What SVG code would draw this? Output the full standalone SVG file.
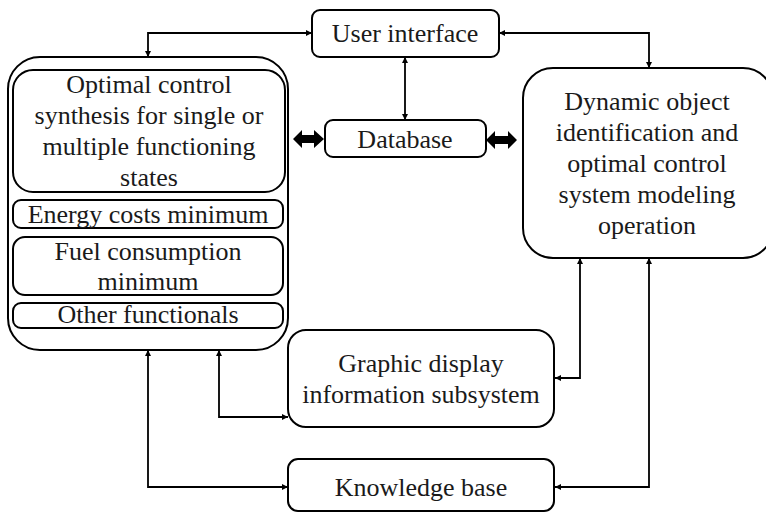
<svg xmlns="http://www.w3.org/2000/svg" width="766" height="513" viewBox="0 0 766 513">
<style>
.box{fill:#fff;stroke:#000;stroke-width:2}
text{font-family:"Liberation Serif",serif;font-size:26px;fill:#1a1a1a;text-anchor:middle}
.c{fill:none;stroke:#000;stroke-width:1.8}
.big{fill:#000}
</style>
<defs>
<marker id="ah" viewBox="0 0 10 10" refX="10" refY="5" markerWidth="6" markerHeight="6" markerUnits="userSpaceOnUse" orient="auto-start-reverse">
<path d="M0,0 L10,5 L0,10 z" fill="#000"/>
</marker>
</defs>
<rect width="766" height="513" fill="#fff"/>
<g id="connectors">
<path class="c" d="M148,57 V33 H312" marker-start="url(#ah)" marker-end="url(#ah)"/>
<path class="c" d="M499,33 H649 V68" marker-start="url(#ah)" marker-end="url(#ah)"/>
<path class="c" d="M405,57 V120" marker-start="url(#ah)" marker-end="url(#ah)"/>
<path class="c" d="M219,350 V417 H288" marker-start="url(#ah)" marker-end="url(#ah)"/>
<path class="c" d="M148,350 V487 H288" marker-start="url(#ah)" marker-end="url(#ah)"/>
<path class="c" d="M580,258 V378 H555" marker-start="url(#ah)" marker-end="url(#ah)"/>
<path class="c" d="M649,258 V487 H555" marker-start="url(#ah)" marker-end="url(#ah)"/>
<path class="big" d="M293,139 L302,130 L302,135 L314,135 L314,130 L324,139 L314,148 L314,143 L302,143 L302,148 Z"/>
<path class="big" d="M486,140 L495,131 L495,136 L508,136 L508,131 L517,140 L508,149 L508,144 L495,144 L495,149 Z"/>
</g>
<g id="left-group">
<rect class="box" x="8" y="57" width="280" height="293" rx="32"/>
<g id="optimal-control">
<rect class="box" x="13" y="70" width="272" height="122" rx="20"/>
<text x="149" y="93">Optimal control</text>
<text x="149" y="124">synthesis for single or</text>
<text x="149" y="155">multiple functioning</text>
<text x="149" y="186">states</text>
</g>
<g id="energy-costs">
<rect class="box" x="13" y="200" width="270" height="28" rx="8"/>
<text x="148" y="223">Energy costs minimum</text>
</g>
<g id="fuel-consumption">
<rect class="box" x="13" y="237" width="270" height="58" rx="12"/>
<text x="148" y="260">Fuel consumption</text>
<text x="148" y="290">minimum</text>
</g>
<g id="other-functionals">
<rect class="box" x="13" y="303" width="270" height="25" rx="8"/>
<text x="148" y="323">Other functionals</text>
</g>
</g>
<g id="user-interface">
<rect class="box" x="312" y="10" width="187" height="47" rx="8"/>
<text x="405" y="42">User interface</text>
</g>
<g id="database">
<rect class="box" x="325" y="120" width="161" height="37" rx="8"/>
<text x="405" y="148">Database</text>
</g>
<g id="dynamic-object">
<rect class="box" x="523" y="68" width="250" height="190" rx="30"/>
<text x="647" y="110">Dynamic object</text>
<text x="647" y="141">identification and</text>
<text x="647" y="172">optimal control</text>
<text x="647" y="203">system modeling</text>
<text x="647" y="234">operation</text>
</g>
<g id="graphic-display">
<rect class="box" x="288" y="330" width="266" height="97" rx="18"/>
<text x="421" y="372">Graphic display</text>
<text x="421" y="403">information subsystem</text>
</g>
<g id="knowledge-base">
<rect class="box" x="288" y="459" width="266" height="52" rx="10"/>
<text x="421" y="496">Knowledge base</text>
</g>
</svg>
